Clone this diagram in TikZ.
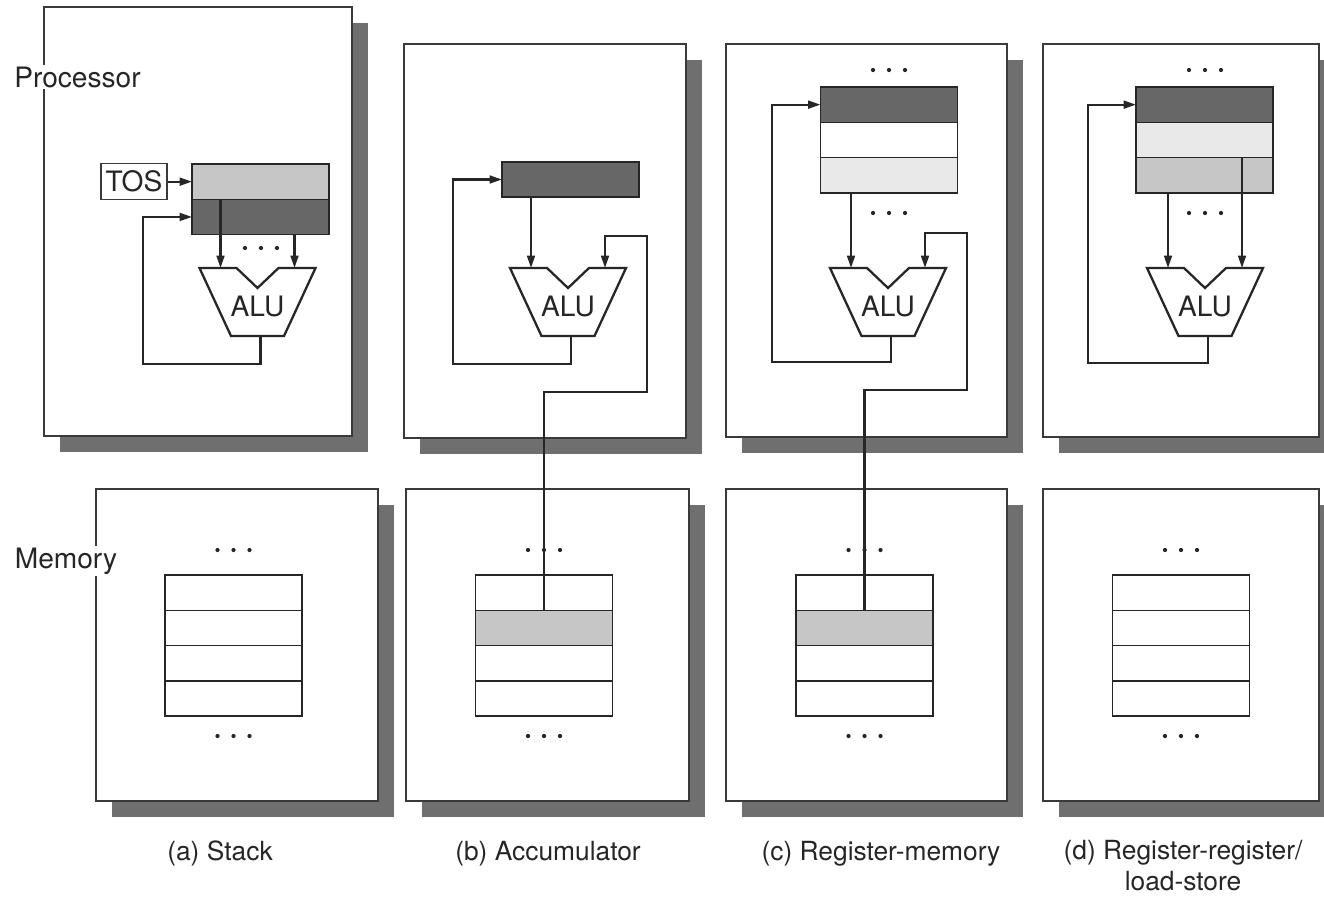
\documentclass[tikz,border=0pt]{standalone}
\usepackage{fontspec}
\setmainfont{TeX Gyre Heros}
\usetikzlibrary{arrows.meta,shadows,calc}
\definecolor{shadowgray}{HTML}{6F6F6F}
\definecolor{darkreg}{HTML}{676767}
\definecolor{midreg}{HTML}{C6C6C6}
\definecolor{lightreg}{HTML}{E9E9E9}
\definecolor{linecol}{HTML}{262626}
\definecolor{boxcol}{HTML}{3A3A3A}
\newcommand\threedots[2]{\foreach \dx in {-16,0,16}{\fill[linecol] ({#1+(\dx)},#2) circle[radius=1.2pt];}}
\tikzset{
 outerbox/.style 2 args={draw=boxcol, line width=0.8pt, fill=white, minimum width=#1*0.02cm, minimum height=#2*0.02cm, inner sep=0pt, outer sep=0pt, drop shadow={shadow xshift=0.32cm, shadow yshift=-0.32cm, fill=shadowgray, opacity=1}},
 cell/.style={draw=linecol, line width=0.9pt, minimum width=2.74cm, minimum height=0.706cm, inner sep=0pt, outer sep=0pt},
 conn/.style={draw=linecol, line width=1.3pt},
 arr/.style={conn, -{Triangle[length=7pt,width=4.4pt]}},
 lbl/.style={font=\fontsize{16}{19}\selectfont, text=black!85, inner sep=1pt},
 captext/.style={font=\fontsize{15}{17.5}\selectfont, text=black!85, inner sep=0pt, align=center},
 alu/.pic={
   \draw[draw=linecol, line width=1.3pt, fill=white, line join=miter] (-58,0) -- (-21,0) -- (0,20) -- (21,0) -- (58,0) -- (26.5,68) -- (-26.5,68) -- cycle;
   \node[lbl] (-text) at (0,38) {ALU};
   \coordinate (-in1) at (-37,0);
   \coordinate (-in2) at (37,0);
   \coordinate (-out) at (3,68);
 },
}
\begin{document}
\begin{tikzpicture}[x=0.02cm,y=-0.02cm]
\useasboundingbox (0,0) rectangle (1324,896);
\clip (0,0) rectangle (1324,896);
\fill[white] (0,0) rectangle (1324,896);
% processor boxes
\node[outerbox={308}{429}] (pa) at (198,221.5) {};
\node[outerbox={282}{394}] (pb) at (545,241) {};
\node[outerbox={281}{393}] (pc) at (866.5,240.5) {};
\node[outerbox={276}{393}] (pd) at (1181,240.5) {};
% memory boxes
\node[outerbox={282}{312}] (ma) at (237,645) {};
\node[outerbox={283}{312}] (mb) at (547.5,645) {};
\node[outerbox={281}{312}] (mc) at (866.5,645) {};
\node[outerbox={276}{312}] (md) at (1181,645) {};
% side labels
\node[lbl, fill=white, anchor=base] (proclbl) at (77.5,87) {Processor};
\node[lbl, fill=white, anchor=base] (memlbl) at (66,568) {Memory};
% registers
\node[cell, fill=midreg] (ra1) at (260.5,181.65) {};
\node[cell, fill=darkreg] (ra2) at (260.5,216.95) {};
\node[cell, fill=darkreg] (rb1) at (570.5,179.5) {};
\node[cell, fill=darkreg] (rc1) at (889,104.65) {};
\node[cell, fill=white] (rc2) at (889,139.95) {};
\node[cell, fill=lightreg] (rc3) at (889,175.25) {};
\node[cell, fill=darkreg] (rd1) at (1204.5,104.65) {};
\node[cell, fill=lightreg] (rd2) at (1204.5,139.95) {};
\node[cell, fill=midreg] (rd3) at (1204.5,175.25) {};
% memory cells
\foreach \col/\x in {a/233.5,b/544,c/864.5,d/1181}{
  \foreach \r/\y in {1/592.65,2/627.95,3/663.25,4/698.55}{
    \node[cell, fill=white] (m\col\r) at (\x,\y) {};
  }
}
\node[cell, fill=midreg] at (mb2) {};
\node[cell, fill=midreg] at (mc2) {};
% TOS
\node[lbl, draw=boxcol, line width=0.8pt, minimum width=1.32cm, minimum height=0.72cm, inner sep=0pt] (tos) at (134,181.65) {TOS};
% ALUs
\pic (alua) at (257.5,268) {alu};
\pic (alub) at (568,268) {alu};
\pic (aluc) at (888,268) {alu};
\pic (alud) at (1205,268) {alu};
% (a) connectors
\draw[arr] (tos.east) -- (ra1.west);
\draw[arr] (ra1.south -| alua-in1) -- (alua-in1);
\draw[arr] (ra2.south -| alua-in2) -- (alua-in2);
\coordinate (fa) at (143,364);
\draw[arr] (alua-out) |- (fa) |- (ra2.west);
% (b) connectors
\draw[arr] (rb1.south -| alub-in1) -- (alub-in1);
\coordinate (fb) at (453,364);
\draw[arr] (alub-out) |- (fb) |- (rb1.west);
\coordinate (jb1) at (647,392);
\coordinate (jb2) at (647,236);
\draw[arr] (mb2.north) |- (jb1) -- (jb2) -| (alub-in2);
% (c) connectors
\draw[arr] (rc3.south -| aluc-in1) -- (aluc-in1);
\coordinate (fc) at (772,362);
\draw[arr] (aluc-out) |- (fc) |- (rc1.west);
\coordinate (jc1) at (967,390);
\coordinate (jc2) at (967,233);
\draw[arr] (mc2.north) |- (jc1) -- (jc2) -| (aluc-in2);
% (d) connectors
\draw[arr] (rd3.south -| alud-in1) -- (alud-in1);
\draw[arr] (rd3.north -| alud-in2) -- (alud-in2);
\coordinate (fd) at (1088,363);
\draw[arr] (alud-out) |- (fd) |- (rd1.west);
% dots
\threedots{261}{248}
\threedots{889}{70}
\threedots{889}{213}
\threedots{1205}{70}
\threedots{1205}{213}
\threedots{233.5}{550}
\threedots{233.5}{736}
\threedots{544}{550}
\threedots{544}{736}
\threedots{864.5}{550}
\threedots{864.5}{736}
\threedots{1181}{550}
\threedots{1181}{736}
% captions
\node[captext, anchor=base] (capa) at (220,860) {(a) Stack};
\node[captext, anchor=base] (capb) at (548,860) {(b) Accumulator};
\node[captext, anchor=base] (capc) at (881,860) {(c) Register-memory};
\node[captext, anchor=north] (capd) at (1183,840) {(d) Register-register/\\load-store};
\end{tikzpicture}
\end{document}
